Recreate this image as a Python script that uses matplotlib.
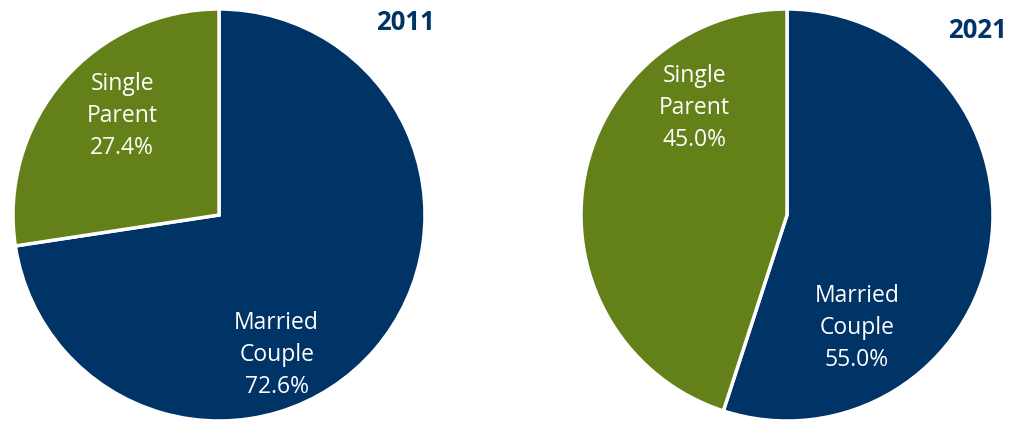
import matplotlib
matplotlib.use("Agg")
import matplotlib.pyplot as plt

years = ["2011", "2021"]
categories = ["Married\nCouple", "Single\nParent"]
married = [72.6, 55.0]
single = [27.4, 45.0]
colors = ["#003366", "#648119"]

# label positions (fraction of radius) per pie: married, single
label_pos = [
    [(0.28, -0.68), (-0.47, 0.48)],
    [(0.34, -0.55), (-0.45, 0.52)],
]
title_pos = [(405, 22), (977, 31)]

W, H = 1013, 422
fig = plt.figure(figsize=(W / 100, H / 100), dpi=100)
plt.rcParams["font.family"] = ["Open Sans", "DejaVu Sans"]

centers = [(219, 215), (787, 215)]
r = 206
for i, year in enumerate(years):
    cx, cy = centers[i]
    ax = fig.add_axes([(cx - r) / W, (H - cy - r) / H, 2 * r / W, 2 * r / H])
    vals = [married[i], single[i]]
    ax.pie(vals, colors=colors, startangle=90, counterclock=False,
           wedgeprops=dict(edgecolor="white", linewidth=2.5))
    ax.set_xlim(-1, 1)
    ax.set_ylim(-1, 1)
    for (lx, ly), cat, v in zip(label_pos[i], categories, vals):
        ax.text(lx, ly, f"{cat}\n{v:.1f}%", ha="center", va="center",
                color="white", fontsize=16.5, linespacing=1.45)
    tx, ty = title_pos[i]
    fig.text(tx / W, 1 - ty / H, year, ha="center", va="center",
             fontsize=18.5, fontweight="bold", color="#003366")

fig.savefig("out.png", dpi=100)
